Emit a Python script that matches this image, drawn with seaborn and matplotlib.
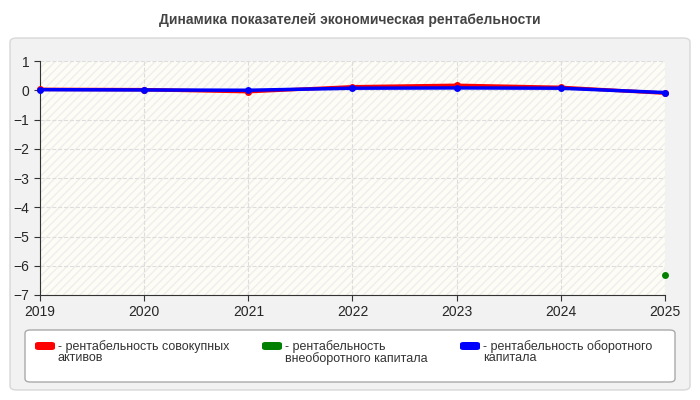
import matplotlib
matplotlib.use("Agg")
import matplotlib.pyplot as plt
import seaborn as sns
import numpy as np
import pandas as pd
from matplotlib.patches import FancyBboxPatch, Rectangle

years = [2019, 2020, 2021, 2022, 2023, 2024, 2025]
red_vals = [0.03, 0.02, -0.05, 0.12, 0.17, 0.10, -0.10]
green_vals = [np.nan, np.nan, np.nan, np.nan, np.nan, np.nan, -6.3]
blue_vals = [0.02, 0.01, 0.0, 0.07, 0.08, 0.07, -0.08]
names = ["- рентабельность совокупных\nактивов", "- рентабельность\nвнеоборотного капитала",
         "- рентабельность оборотного\nкапитала"]
colors = ["#ff0000", "#008000", "#0000ff"]
title = "Динамика показателей экономическая рентабельности"

sns.set_style("white")
plt.rcParams['font.family'] = ['Liberation Sans', 'DejaVu Sans']
fig = plt.figure(figsize=(7, 4), dpi=100)
fig.patch.set_facecolor("white")
bg = FancyBboxPatch((10/700, 10/400), 680/700, 352/400, boxstyle="round,pad=0,rounding_size=0.01",
                    transform=fig.transFigure, facecolor="#f2f2f2", edgecolor="#d8d8d8", lw=1, zorder=-5)
fig.patches.append(bg)
fig.text(0.5, 380/400, title, ha="center", va="center", fontsize=10, fontweight="bold", color="#444444")

ax = fig.add_axes([40/700, 105/400, 625/700, 234/400])
ax.set_zorder(2)
ax.set_facecolor("#fdfdf6")
ax.add_patch(Rectangle((0, 0), 1, 1, transform=ax.transAxes, fill=False, hatch="////",
                       edgecolor="#eeeeee", lw=0, zorder=0))
df = pd.DataFrame({"year": years * 3,
                   "val": red_vals + green_vals + blue_vals,
                   "s": [names[0]] * 7 + [names[1]] * 7 + [names[2]] * 7})
for i, n in enumerate(names):
    d = df[df.s == n]
    sns.lineplot(data=d, x="year", y="val", ax=ax, color=colors[i], lw=2.5 if i != 1 else 2,
                 marker="o", markersize=5, markeredgewidth=0, legend=False, clip_on=False, zorder=5)
ax.set_xlim(2019, 2025)
ax.set_ylim(-7, 1)
ax.set_xticks(years)
ax.set_yticks(range(-7, 2))
ax.grid(True, color="#dddddd", linestyle="--", lw=0.8)
for s in ["top", "right"]:
    ax.spines[s].set_visible(False)
ax.spines["left"].set_color("#333333")
ax.spines["bottom"].set_color("#333333")
ax.tick_params(axis="both", labelsize=10, length=4, color="#333333", left=True, bottom=True)
ax.set_xlabel(""); ax.set_ylabel("")

lg = FancyBboxPatch((25/700, 18/400), 650/700, 52/400, boxstyle="round,pad=0,rounding_size=0.008",
                    transform=fig.transFigure, facecolor="white", edgecolor="#aaaaaa", lw=1, zorder=-4)
fig.patches.append(lg)
lx = [35, 262, 460]
for i, n in enumerate(names):
    fig.patches.append(FancyBboxPatch((lx[i]/700, 50/400), 20/700, 8/400, boxstyle="round,pad=0,rounding_size=0.005",
                                      transform=fig.transFigure, facecolor=colors[i], edgecolor="none", zorder=-3))
    fig.text((lx[i]+23)/700, 60/400, n, fontsize=9, va="top", ha="left", color="#333333", linespacing=0.95)
fig.savefig("out.png", dpi=100)
